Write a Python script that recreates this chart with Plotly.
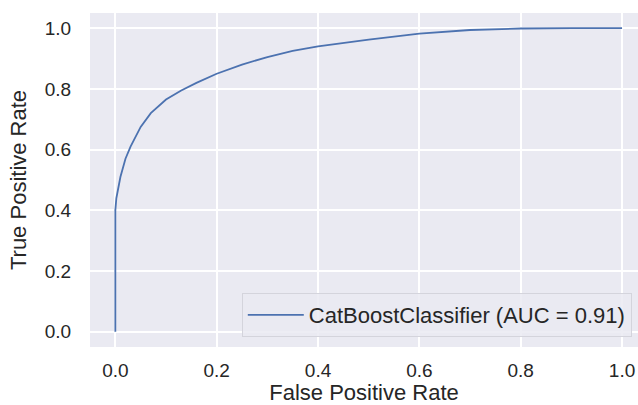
import plotly.graph_objects as go

fpr = [0.0, 0.0, 0.002, 0.005, 0.01, 0.02, 0.03, 0.05, 0.07, 0.1, 0.13, 0.16, 0.2, 0.25, 0.3,
       0.35, 0.4, 0.5, 0.6, 0.7, 0.8, 0.9, 1.0]
tpr = [0.0, 0.4, 0.44, 0.47, 0.51, 0.57, 0.61, 0.675, 0.72, 0.765, 0.795, 0.82, 0.85, 0.88, 0.905,
       0.925, 0.94, 0.962, 0.982, 0.994, 0.999, 1.0, 1.0]
label = "CatBoostClassifier (AUC = 0.91)"
ticks = [0.0, 0.2, 0.4, 0.6, 0.8, 1.0]
tick_text = ["0.0", "0.2", "0.4", "0.6", "0.8", "1.0"]

fig = go.Figure()
fig.add_trace(go.Scatter(x=fpr, y=tpr, mode="lines", name=label,
                         line=dict(color="#4c72b0", width=1.8)))

font_family = "Liberation Sans, Arial, sans-serif"
fig.update_layout(
    width=638, height=405,
    margin=dict(l=90, r=0, t=13, b=58),
    paper_bgcolor="white",
    plot_bgcolor="#eaeaf2",
    font=dict(family=font_family, color="#262626"),
    showlegend=True,
    legend=dict(x=0.277, y=0.03, xanchor="left", yanchor="bottom",
                bgcolor="rgba(234,234,242,0.85)", bordercolor="#d4d4dc", borderwidth=1,
                font=dict(size=22, color="#262626"), itemwidth=56),
)
fig.update_xaxes(range=[-0.05, 1.0315], tickvals=ticks, ticktext=tick_text, automargin=False,
                 showgrid=True, gridcolor="white", gridwidth=1.5, zeroline=False,
                 showline=False, ticks="outside", ticklen=6, tickcolor="rgba(0,0,0,0)",
                 tickfont=dict(size=19, color="#262626"),
                 title=dict(text="False Positive Rate", font=dict(size=22, color="#262626"), standoff=9))
fig.update_yaxes(range=[-0.05, 1.05], tickvals=ticks, ticktext=tick_text, automargin=False,
                 showgrid=True, gridcolor="white", gridwidth=1.5, zeroline=False,
                 showline=False, ticks="outside", ticklen=14, tickcolor="rgba(0,0,0,0)",
                 tickfont=dict(size=19, color="#262626"),
                 title=dict(text="True Positive Rate", font=dict(size=22, color="#262626"), standoff=12))

fig.write_html("out.html", config={"displayModeBar": False},
               post_script="document.body.style.margin='0';document.body.style.overflow='hidden';")
